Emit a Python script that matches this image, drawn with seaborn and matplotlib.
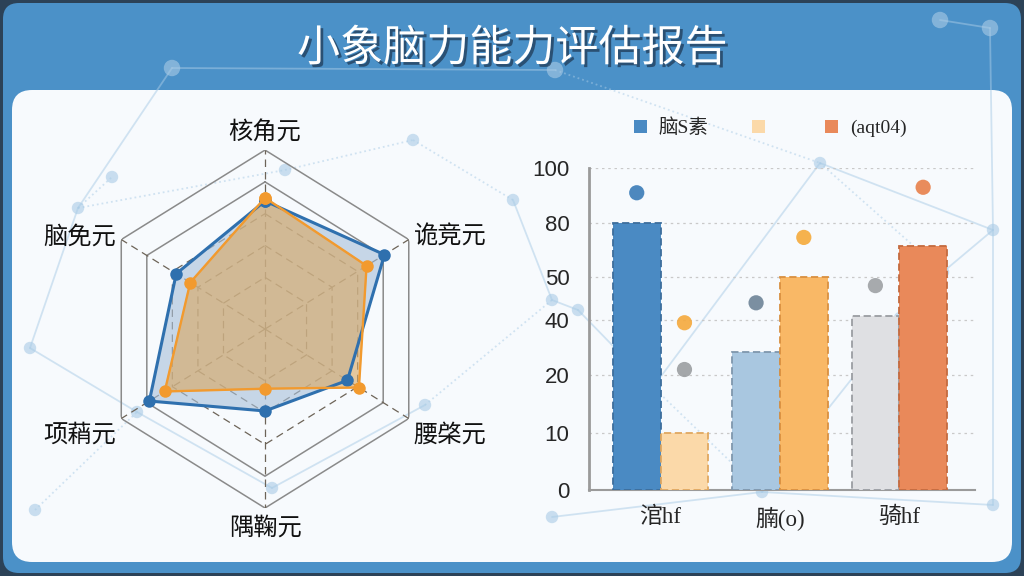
import numpy as np
import pandas as pd
import seaborn as sns
import matplotlib.pyplot as plt
from matplotlib.patches import FancyBboxPatch, Patch
from matplotlib import patheffects as pe

# ---- radar data ----
radar_axes = ["核角元", "诡竞元", "腰棨元", "隅鞠元", "项蕱元", "脑免元"]
radar_blue = [68, 81, 52, 39, 78, 57]
radar_orange = [70, 67, 61, 25, 66, 46]
ring_levels = [20, 40, 60, 80, 100]

# ---- bar data ----
bar_groups = ["涫hf", "腩(o)", "骑hf"]
bar_left = [80, 28.5, 41]
bar_right = [10, 50, 67]
bar_left_colors = ["#4a8ac3", "#a9c7e0", "#dfe0e3"]
bar_right_colors = ["#fbd9a9", "#f9b866", "#e9895a"]
bar_left_edges = ["#3d6e9c", "#7f97ad", "#9a9da2"]
bar_right_edges = ["#e0a860", "#d99040", "#c46a3f"]

dot_group = [0, 0, 0, 1, 1, 2, 2]
dot_side = [-1, 1, 1, -1, 1, -1, 1]
dot_values = [91, 39, 22, 44, 72, 48, 93]
dot_colors = ["#3a7cb8", "#f5a93c", "#9b9ea1", "#6e8497", "#f5aa3b", "#9fa2a5", "#e8804a"]

y_ticks = [0, 10, 20, 40, 50, 80, 100]
y_tick_height = [0, 57, 115, 170, 213, 267, 322]  # uneven axis spacing

legend_labels = ["脑S素", " ", "(aqt04)"]
legend_colors = ["#4a8ac3", "#fbd9a9", "#e9895a"]

title = "小象脑力能力评估报告"

CJK = ["Noto Sans CJK SC", "DejaVu Sans"]
SERIF = ["Liberation Serif", "Noto Sans CJK SC"]

sns.set_theme(style="white")
plt.rcParams["font.family"] = CJK

fig = plt.figure(figsize=(10.24, 5.76), dpi=100)
fig.patch.set_facecolor("#2c4257")

# ---- background ----
bg = fig.add_axes([0, 0, 1, 1], zorder=-5)
bg.set_xlim(0, 1024)
bg.set_ylim(576, 0)
bg.axis("off")
bg.add_patch(FancyBboxPatch((3, 3), 1018, 570, boxstyle="round,pad=0,rounding_size=16",
                            fc="#4b91c8", ec="none"))
bg.add_patch(FancyBboxPatch((12, 90), 1000, 472, boxstyle="round,pad=0,rounding_size=20",
                            fc="#f7fafd", ec="none"))

# faint network decoration
nodes = {"A": (78, 208), "B": (112, 177), "C": (30, 348), "D": (137, 412), "E": (272, 488),
         "F": (425, 405), "G": (285, 170), "H": (413, 140), "I": (513, 200), "J": (552, 300),
         "K": (578, 310), "L": (653, 387), "M": (762, 492), "N": (552, 517), "O": (820, 163),
         "P": (993, 230), "Q": (943, 272), "R": (900, 318), "S": (993, 505), "T": (35, 510),
         "h1": (172, 68), "h2": (940, 20), "h3": (990, 28), "h4": (555, 70)}
edges = [("A", "B", ":"), ("A", "G", ":"), ("G", "H", ":"), ("A", "C", "-"), ("C", "D", "-"),
         ("D", "E", "-"), ("E", "F", "-"), ("T", "D", ":"), ("I", "J", "-"), ("J", "K", "-"),
         ("K", "L", "-"), ("L", "M", ":"), ("L", "O", "-"), ("O", "P", "-"), ("O", "Q", ":"),
         ("P", "Q", "-"), ("Q", "R", "-"), ("R", "M", "-"), ("N", "M", "-"), ("M", "S", "-"),
         ("P", "S", "-"), ("H", "I", ":"), ("F", "J", ":"),
         ("h1", "A", "-"), ("h1", "h4", "-"), ("h2", "h3", "-"), ("h3", "P", "-"), ("h4", "O", ":")]
for a, b, ls in edges:
    (x1, y1), (x2, y2) = nodes[a], nodes[b]
    bg.plot([x1, x2], [y1, y2], ls=ls, color="#a9cbe6", lw=1.3, alpha=0.5, zorder=1)
for k, (x, y) in nodes.items():
    bg.scatter(x, y, s=140 if k.startswith("h") else 80, color="#a9cbe6", alpha=0.6,
               edgecolor="none", zorder=2)

fig.text(0.5, 0.915, title, ha="center", va="center", color="white", fontsize=31,
         fontweight="medium", family=CJK,
         path_effects=[pe.SimplePatchShadow(offset=(2, -2), shadow_rgbFace="#1c3550", alpha=0.7),
                       pe.Normal()])

# ---- radar ----
rad = fig.add_axes([0.0967, 0.118, 0.3242, 0.6215], projection="polar")
rad.set_aspect("auto")
rad.set_facecolor("none")
rad.set_theta_zero_location("N")
rad.set_theta_direction(-1)
rad.set_ylim(-12.5, 100)
theta = np.deg2rad(np.arange(len(radar_axes)) * 60)
closed = np.append(theta, 2 * np.pi)

for lvl in ring_levels:
    solid = lvl >= 80
    rad.plot(closed, [lvl] * len(closed), color="#8a8a8a" if solid else "#6d6458",
             lw=1.1 if solid else 0.9, ls="-" if solid else (0, (6, 4)), zorder=1)
for t in theta:
    rad.plot([t, t], [-12.5, 100], color="#6d6458", lw=0.9, ls=(0, (6, 4)), zorder=1)

radar_df = pd.DataFrame({
    "theta": np.concatenate([closed, closed]),
    "value": radar_blue + radar_blue[:1] + radar_orange + radar_orange[:1],
    "series": ["blue"] * len(closed) + ["orange"] * len(closed),
})
rad.fill(closed, radar_blue + radar_blue[:1], color="#a9c1da", alpha=0.62, zorder=2)
rad.fill(closed, radar_orange + radar_orange[:1], color="#d9a863", alpha=0.62, zorder=3)
sns.lineplot(data=radar_df, x="theta", y="value", hue="series", sort=False, estimator=None,
             palette={"blue": "#2f70ae", "orange": "#f29a2e"}, linewidth=2.2,
             marker="o", markersize=9, markeredgewidth=0, legend=False, ax=rad)
for line in rad.lines[-2:]:
    line.set_zorder(4)
rad.lines[-1].set_linewidth(1.7)

rad.set_xticks([])
rad.set_yticks([])
rad.grid(False)
rad.spines["polar"].set_visible(False)
rad.set_xlabel("")
rad.set_ylabel("")

label_pos = [(103, "center", "bottom"), (104, "left", "center"), (104, "left", "top"),
             (104, "center", "top"), (104, "right", "top"), (104, "right", "center")]
for t, name, (r, ha, va) in zip(theta, radar_axes, label_pos):
    rad.text(t, r, name, ha=ha, va=va, fontsize=17.5, color="#111111", family=CJK)

# ---- bars ----
bar = fig.add_axes([0.5752, 0.1493, 0.377, 0.559])
bar.set_facecolor("none")
bar_df = pd.DataFrame({
    "group": bar_groups * 2,
    "value": bar_left + bar_right,
    "side": ["left"] * 3 + ["right"] * 3,
})
sns.barplot(data=bar_df, x="group", y="value", hue="side", order=bar_groups,
            hue_order=["left", "right"], width=0.8, legend=False, ax=bar, zorder=3)
fills = bar_left_colors + bar_right_colors
edges_c = bar_left_edges + bar_right_edges
for p, fc, ec in zip(bar.patches, fills, edges_c):
    p.set_facecolor(fc)
    p.set_edgecolor(ec)
    p.set_linestyle((0, (4, 2)))
    p.set_linewidth(1.3)

fwd = lambda v: np.interp(v, y_ticks, y_tick_height)
inv = lambda p: np.interp(p, y_tick_height, y_ticks)
bar.set_yscale("function", functions=(fwd, inv))
bar.set_ylim(0, 100)
bar.set_xlim(-0.6, 2.635)

dot_x = [g + s * 0.2 for g, s in zip(dot_group, dot_side)]
sns.scatterplot(x=dot_x, y=dot_values, hue=list(range(len(dot_values))), palette=dot_colors,
                s=120, edgecolor="none", alpha=0.9, legend=False, ax=bar, zorder=5)

bar.set_yticks(y_ticks)
bar.set_yticklabels([str(v) for v in y_ticks], fontsize=16, family=["Liberation Sans"])
bar.set_xticks(range(3))
bar.set_xticklabels(bar_groups, fontsize=16.5, family=SERIF)
bar.tick_params(axis="both", length=0)
bar.tick_params(axis="y", pad=14)
bar.tick_params(axis="x", pad=12)
bar.grid(axis="y", ls=(0, (2, 3)), color="#c9c9c9", lw=0.9, zorder=0)
for s in ["top", "right"]:
    bar.spines[s].set_visible(False)
bar.spines["left"].set_color("#9a9a9a")
bar.spines["left"].set_linewidth(2)
bar.spines["bottom"].set_color("#9a9a9a")
bar.spines["bottom"].set_linewidth(1.5)
bar.spines["bottom"].set_linestyle((0, (3, 1)))
bar.set_xlabel("")
bar.set_ylabel("")

handles = [Patch(facecolor=c, edgecolor="none") for c in legend_colors]
fig.legend(handles, legend_labels, loc="center", bbox_to_anchor=(0.752, 0.778), ncol=3,
           frameon=False, handlelength=0.7, handleheight=0.7, columnspacing=2.2,
           handletextpad=0.6, prop={"family": SERIF, "size": 14})

fig.savefig("out.png", dpi=100, facecolor=fig.get_facecolor())
